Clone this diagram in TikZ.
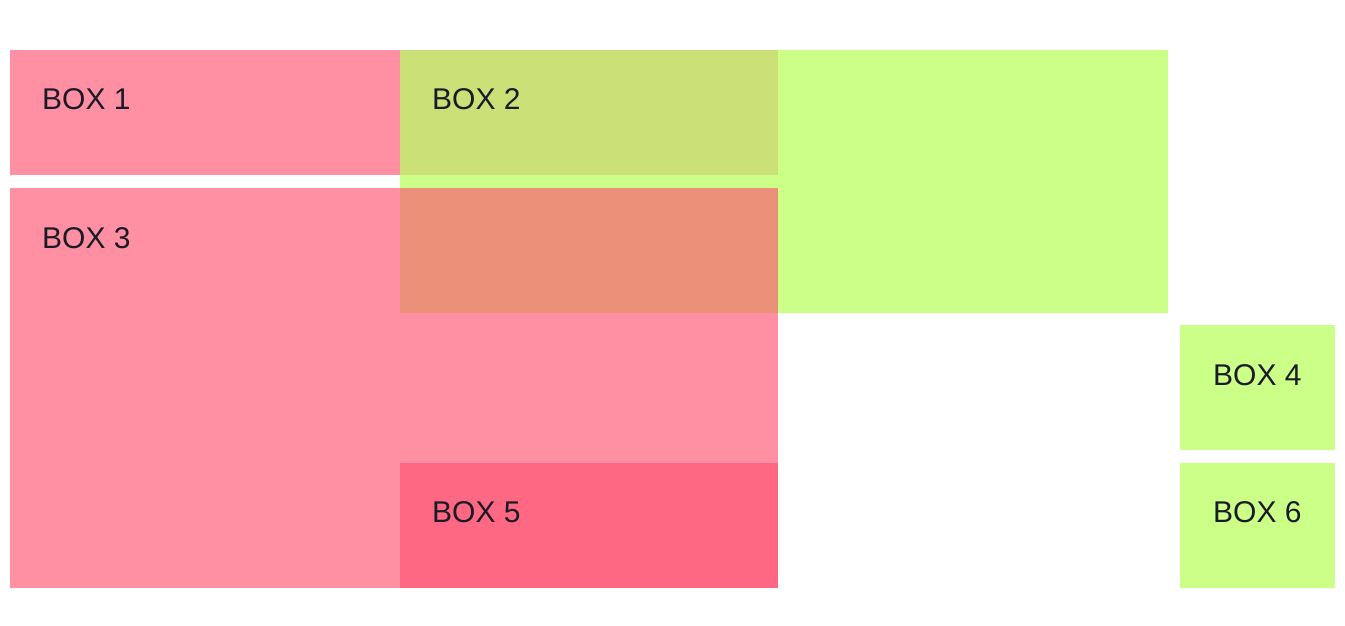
\documentclass[tikz,border=0pt]{standalone}
\usepackage{fontspec}
\setmainfont{Liberation Sans}
\definecolor{pinkbox}{RGB}{255,143,162}
\definecolor{greenbox}{RGB}{204,255,136}
\definecolor{olivebox}{RGB}{203,225,119}
\definecolor{salmonbox}{RGB}{234,143,120}
\definecolor{redbox}{RGB}{255,104,130}
\definecolor{txt}{RGB}{26,26,40}
\begin{document}
\begin{tikzpicture}[x=1pt,y=-1pt,
  area/.style={fill=#1,draw=none},
  lbl/.style={anchor=base west,inner sep=0pt,text=txt,font=\fontsize{30}{36}\selectfont}]
\useasboundingbox (0,0) rectangle (1345,626);
% box 3
\fill[area=pinkbox] (10,188) rectangle (778,588);
% box 1
\fill[area=pinkbox] (10,50) rectangle (400,175);
% box 2
\fill[area=greenbox] (400,50) rectangle (1168,313);
\fill[area=olivebox] (400,50) rectangle (778,175);
\fill[area=salmonbox] (400,188) rectangle (778,313);
% box 4, 5, 6
\fill[area=greenbox] (1180,325) rectangle (1335,450);
\fill[area=redbox] (400,463) rectangle (778,588);
\fill[area=greenbox] (1180,463) rectangle (1335,588);
% labels
\node[lbl] (b1) at (42,110) {BOX 1};
\node[lbl] (b2) at (432,110) {BOX 2};
\node[lbl] (b3) at (42,248) {BOX 3};
\node[lbl] (b4) at (1213,385) {BOX 4};
\node[lbl] (b5) at (432,522) {BOX 5};
\node[lbl] (b6) at (1213,522) {BOX 6};
\end{tikzpicture}
\end{document}
